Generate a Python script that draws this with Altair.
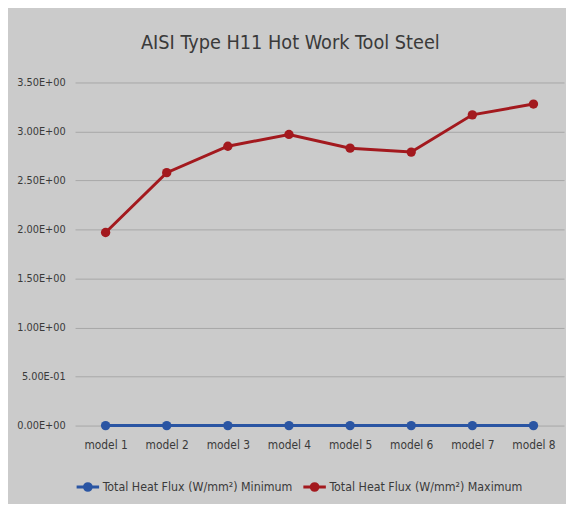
import altair as alt
import pandas as pd

models = ["model 1", "model 2", "model 3", "model 4", "model 5", "model 6", "model 7", "model 8"]
minimum = [0, 0, 0, 0, 0, 0, 0, 0]
maximum = [1.97, 2.58, 2.85, 2.97, 2.83, 2.79, 3.17, 3.28]
series_names = ["Total Heat Flux (W/mm²) Minimum", "Total Heat Flux (W/mm²) Maximum"]
series_colors = ["#2a55a3", "#a3191e"]

rows = []
for m, v in zip(models, minimum):
    rows.append({"model": m, "value": v, "series": series_names[0]})
for m, v in zip(models, maximum):
    rows.append({"model": m, "value": v, "series": series_names[1]})
df = pd.DataFrame(rows)

FONT = "Liberation Sans Narrow, DejaVu Sans Condensed, Roboto, sans-serif"

label_expr = ("datum.value == 0 ? '0.00E+00' : (datum.value < 1 ? "
              "format(datum.value*10, '.2f') + 'E-01' : format(datum.value, '.2f') + 'E+00')")

color = alt.Color(
    "series:N",
    scale=alt.Scale(domain=series_names, range=series_colors),
    legend=alt.Legend(
        title=None, orient="bottom", direction="horizontal",
        symbolType="M-1,0H1M-0.3,0a0.3,0.3 0 1,0 0.6,0a0.3,0.3 0 1,0 -0.6,0",
        symbolSize=520, symbolStrokeWidth=3, labelLimit=0,
        labelFont=FONT, labelFontSize=12.5, labelColor="#3a3a3a",
        columnPadding=4, labelOffset=2, offset=24,
    ),
)

x = alt.X("model:N", sort=models, title=None,
          scale=alt.Scale(paddingInner=1, paddingOuter=0.5),
          axis=alt.Axis(labelAngle=0, ticks=False, domain=False, grid=False,
                        labelFont=FONT, labelFontSize=12, labelColor="#3a3a3a", labelPadding=14))
y = alt.Y("value:Q", title=None,
          scale=alt.Scale(domain=[0, 3.5], nice=False),
          axis=alt.Axis(values=[0, 0.5, 1, 1.5, 2, 2.5, 3, 3.5], labelExpr=label_expr,
                        ticks=False, domain=False, gridColor="#a8a8a8", gridWidth=1,
                        labelFont=FONT, labelFontSize=11, labelColor="#3a3a3a", labelPadding=10))

base = alt.Chart(df)
line = base.mark_line(strokeWidth=3).encode(x=x, y=y, color=color)
pts = base.mark_point(filled=True, size=90, opacity=1).encode(x=x, y=y, color=color)

chart = alt.layer(line, pts).properties(
    width=566, height=496,
    autosize=alt.AutoSizeParams(type="fit", contains="padding"),
    padding={"left": 8, "right": 2, "top": 22, "bottom": 4},
    background="#cbcbcb",
    title=alt.Title("AISI Type H11 Hot Work Tool Steel", font=FONT, fontSize=20,
                    fontWeight="normal", color="#3a3a3a", offset=24,
                    frame="bounds", anchor="middle"),
).configure_view(stroke=None)

chart.save("out.html", embed_options={"renderer": "svg", "actions": False})
